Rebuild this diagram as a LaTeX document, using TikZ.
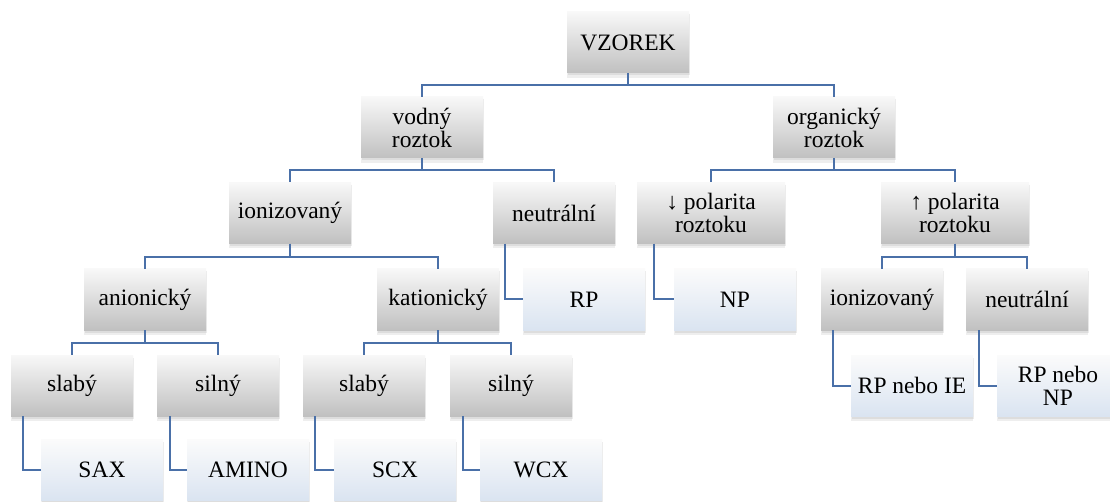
\documentclass[tikz,border=0pt]{standalone}
\usepackage{fontspec}
\setmainfont{Liberation Serif}
\newfontfamily\boxfont{Liberation Serif}
\usetikzlibrary{shadows}
\definecolor{gtop}{RGB}{248,248,248}
\definecolor{gbot}{RGB}{192,192,192}
\definecolor{ltop}{RGB}{251,251,251}
\definecolor{lbot}{RGB}{218,228,241}
\definecolor{conn}{RGB}{74,112,168}
\begin{document}
\begin{tikzpicture}[x=1pt,y=-1pt,
  box/.style={rectangle, minimum width=122pt, minimum height=61pt, inner sep=0pt,
    align=center, top color=gtop, bottom color=gbot,
    font=\boxfont\fontsize{23.5}{23}\selectfont,
    drop shadow={opacity=0.13, shadow xshift=0pt, shadow yshift=-5pt},
    drop shadow={opacity=0.15, shadow xshift=1pt, shadow yshift=-2.5pt}},
  leaf/.style={box, top color=ltop, bottom color=lbot},
  wide/.style={minimum width=148pt},
  link/.style={draw=conn, line width=2pt}]
\clip (0,0) rectangle (1110,502);
\fill[white] (0,0) rectangle (1110,502);
% level 1
\node[box] (vz) at (628,42.5) {VZOREK};
% level 2
\node[box] (vod) at (422,127.5) {vodný\\roztok};
\node[box] (org) at (834,127.5) {organický\\roztok};
% level 3
\node[box] (ion) at (290,213) {ionizovaný};
\node[box] (neu) at (554,213) {neutrální};
\node[box,wide] (dpol) at (711,213) {↓ polarita\\roztoku};
\node[box,wide] (upol) at (955,213) {↑ polarita\\roztoku};
% level 4
\node[box] (ani) at (145,299.5) {anionický};
\node[box] (kat) at (438,299.5) {kationický};
\node[leaf] (rp) at (584,299.5) {RP};
\node[leaf] (np) at (735,299.5) {NP};
\node[box] (ion2) at (882,299.5) {ionizovaný};
\node[box] (neu2) at (1027,299.5) {neutrální};
% level 5
\node[box] (sl1) at (72,385.5) {slabý};
\node[box] (si1) at (218,385.5) {silný};
\node[box] (sl2) at (364,385.5) {slabý};
\node[box] (si2) at (511,385.5) {silný};
\node[leaf] (rpie) at (912,385.5) {RP nebo IE};
\node[leaf] (rpnp) at (1058,385.5) {RP nebo\\NP};
% level 6
\node[leaf] (sax) at (102,470) {SAX};
\node[leaf] (amino) at (248,470) {AMINO};
\node[leaf] (scx) at (395,470) {SCX};
\node[leaf] (wcx) at (541,470) {WCX};
% bus connectors
\draw[link] (vz.south) -- ++(0,12) -| (vod.north);
\draw[link] (vz.south) -- ++(0,12) -| (org.north);
\draw[link] (vod.south) -- ++(0,11.5) -| (ion.north);
\draw[link] (vod.south) -- ++(0,11.5) -| (neu.north);
\draw[link] (org.south) -- ++(0,11.5) -| (dpol.north);
\draw[link] (org.south) -- ++(0,11.5) -| (upol.north);
\draw[link] (ion.south) -- ++(0,13) -| (ani.north);
\draw[link] (ion.south) -- ++(0,13) -| (kat.north);
\draw[link] (upol.south) -- ++(0,13) -| (ion2.north);
\draw[link] (upol.south) -- ++(0,13) -| (neu2.north);
\draw[link] (ani.south) -- ++(0,13) -| (sl1.north);
\draw[link] (ani.south) -- ++(0,13) -| (si1.north);
\draw[link] (kat.south) -- ++(0,13) -| (sl2.north);
\draw[link] (kat.south) -- ++(0,13) -| (si2.north);
% leaf connectors
\draw[link] ([xshift=12pt]neu.south west) |- (rp.west);
\draw[link] ([xshift=17pt]dpol.south west) |- (np.west);
\draw[link] ([xshift=12pt]ion2.south west) |- (rpie.west);
\draw[link] ([xshift=13pt]neu2.south west) |- (rpnp.west);
\draw[link] ([xshift=12pt]sl1.south west) |- (sax.west);
\draw[link] ([xshift=13pt]si1.south west) |- (amino.west);
\draw[link] ([xshift=12pt]sl2.south west) |- (scx.west);
\draw[link] ([xshift=13pt]si2.south west) |- (wcx.west);
\end{tikzpicture}
\end{document}
